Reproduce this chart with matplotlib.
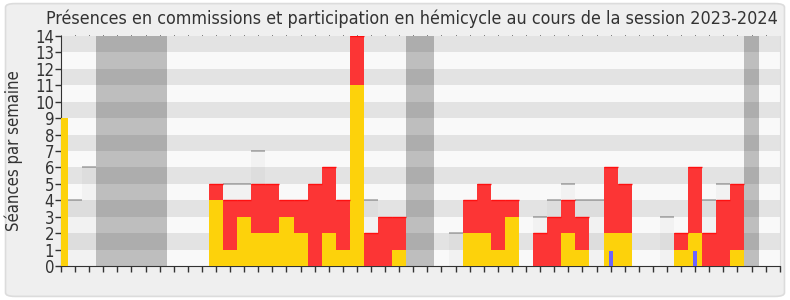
import numpy as np
import matplotlib
matplotlib.use("Agg")
import matplotlib.pyplot as plt
from matplotlib.patches import FancyBboxPatch

# one value per week, week 0 = first week of July 2023
n_weeks = 51
weeks = np.arange(n_weeks)

# participation en hémicycle (yellow)
hemicycle = {0: 9, 11: 4, 12: 1, 13: 3, 14: 2, 15: 2, 16: 3, 17: 2, 19: 2, 20: 1,
             21: 11, 24: 1, 29: 2, 30: 2, 31: 1, 32: 3, 36: 2, 37: 1, 39: 2, 40: 2,
             44: 1, 45: 2, 48: 1}
# présences en commission (red, stacked on yellow)
commission = {11: 1, 12: 3, 13: 1, 14: 3, 15: 3, 16: 1, 17: 2, 18: 5, 19: 4, 20: 3,
              21: 3, 22: 2, 23: 3, 24: 2, 29: 2, 30: 3, 31: 3, 32: 1, 34: 2, 35: 3,
              36: 2, 37: 2, 39: 4, 40: 3, 44: 1, 45: 4, 46: 2, 47: 4, 48: 4}
# activité médiane (light gray bars)
mediane = {1: 4, 2: 6, 12: 5, 13: 5, 14: 7, 22: 4, 28: 2, 34: 3, 35: 4, 36: 5,
           37: 4, 38: 4, 43: 3, 46: 4, 47: 5}
# questions orales (blue)
questions = {39: 0.9, 45: 0.9}
# vacances parlementaires
vacances = [3, 4, 5, 6, 7, 25, 26, 49]

month_pos = [0, 5, 10, 14, 19, 24, 28, 31, 35, 40, 44, 49]
month_labels = ["Juil", "Août", "Sept", "Oct", "Nov", "Déc", "Jan 24", "Fév",
                "Mar", "Avr", "Mai", "Juin"]

title = "Présences en commissions et participation en hémicycle au cours de la session 2023-2024"
ymax = 14

plt.rcParams["font.family"] = "DejaVu Sans"
plt.rcParams["font.stretch"] = "condensed"


def series(d):
    return np.array([d.get(w, 0) for w in weeks], dtype=float)


hemi = series(hemicycle)
comm = series(commission)
med = series(mediane)
qst = series(questions)

fig = plt.figure(figsize=(7.9, 3.0), dpi=100, facecolor="white")
fig.patches.append(FancyBboxPatch((0.007, 0.012), 0.986, 0.976,
                                  boxstyle="round,pad=0,rounding_size=0.012",
                                  transform=fig.transFigure, facecolor="#efefef",
                                  edgecolor="#dcdcdc", linewidth=1.2, zorder=-10))

ax = fig.add_axes([0.0772, 0.1133, 0.9098, 0.7667])
ax.set_facecolor("#f9f9f9")

# vacation bands
ax.bar(vacances, [ymax] * len(vacances), width=1, color="#bebebe", zorder=1, linewidth=0)

# median activity
ax.bar(weeks, med, width=1, color="#f2f2f2", zorder=1.5, linewidth=0)
mask = med > 0
ax.hlines(med[mask], weeks[mask] - 0.5, weeks[mask] + 0.5, color="#aaaaaa", lw=1.2, zorder=1.6)

# horizontal stripes
for y in range(1, ymax, 2):
    ax.axhspan(y, y + 1, color="black", alpha=0.085, lw=0, zorder=2)

ax.bar(weeks, hemi, width=1, color="#fdd20b", zorder=3, linewidth=0)
ax.bar(weeks, comm, bottom=hemi, width=1, color="#fc3535", zorder=3, linewidth=0)
mask = comm > 0
ax.hlines((hemi + comm)[mask], weeks[mask] - 0.5, weeks[mask] + 0.5, color="#ff1010",
          lw=1, zorder=3.1)
ax.bar(weeks, qst, width=0.28, color="#6c63ff", zorder=4, linewidth=0)

ax.set_xlim(0, n_weeks)
ax.set_ylim(0, ymax)
ax.set_yticks(range(0, ymax + 1))
ax.set_xticks(range(0, n_weeks + 1))
ax.set_xticklabels([])
ax.set_xticks(month_pos, minor=True)
ax.set_xticklabels(month_labels, minor=True)
ax.tick_params(axis="x", which="major", direction="out", length=4, width=1, color="#333333")
ax.tick_params(axis="x", which="minor", length=0, pad=5, labelsize=11.5, labelcolor="#333333")
ax.tick_params(axis="y", direction="out", length=4, width=1, color="#333333",
               labelsize=12, labelcolor="#333333", pad=1)

# faint dots along the top edge, one per week
ax.plot(weeks, [ymax + 0.08] * n_weeks, ls="none", marker="s", ms=0.6, mew=0,
        color="#777777", clip_on=False, zorder=5)

ax.spines["top"].set_visible(False)
ax.spines["right"].set_color("#dddddd")
ax.spines["left"].set_color("#333333")
ax.spines["bottom"].set_color("#333333")

ax.set_ylabel("Séances par semaine", fontsize=12, color="#333333", labelpad=9)
fig.text(0.522, 0.905, title, ha="center", va="bottom", fontsize=12.9, color="#333333")

fig.savefig("out.png", dpi=100, facecolor="white")
